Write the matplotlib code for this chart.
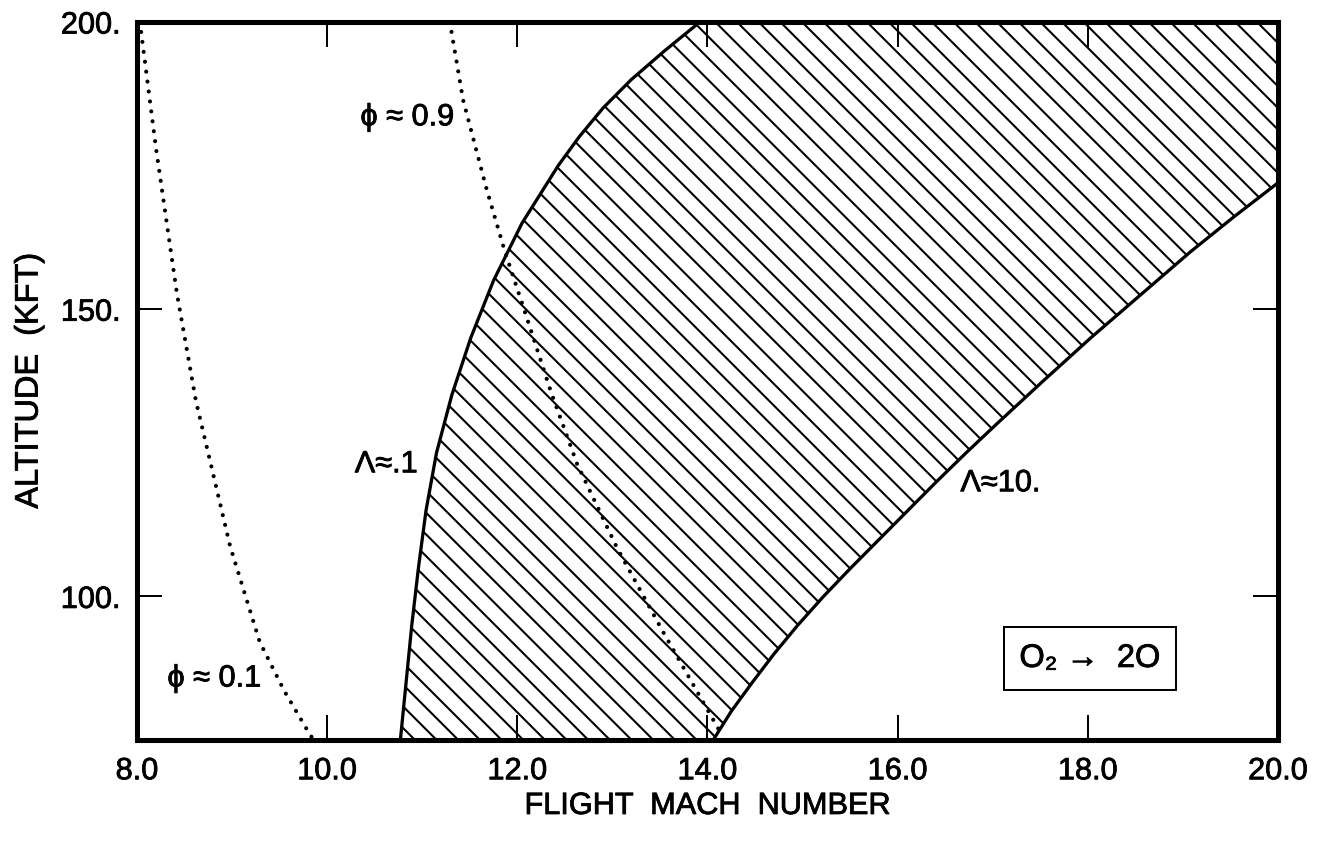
import matplotlib
matplotlib.use("Agg")
import matplotlib.pyplot as plt
import matplotlib.patheffects as pe
import numpy as np

# Lambda ~ 0.1 boundary (left edge of the hatched band)
lam01_alt = [75.0, 85.0, 95.0, 105.0, 115.0, 125.0, 135.0, 145.0, 155.0, 165.0, 175.0, 180.0,
             185.0, 190.0, 195.0, 200.0]
lam01_mach = [10.77, 10.83, 10.89, 10.96, 11.04, 11.15, 11.31, 11.51, 11.75, 12.05, 12.43, 12.65,
              12.90, 13.20, 13.55, 13.92]

# Lambda ~ 10 boundary (right edge of the hatched band)
lam10_alt = [75.0, 80.0, 85.0, 90.0, 95.0, 100.0, 105.0, 110.0, 115.0, 120.0, 125.0, 130.0,
             137.5, 145.0, 152.0, 160.0, 166.0, 172.0]
lam10_mach = [14.06, 14.25, 14.47, 14.70, 14.95, 15.22, 15.51, 15.81, 16.11, 16.41, 16.72, 17.04,
              17.53, 18.03, 18.52, 19.08, 19.53, 20.00]

# dissociation fraction contours
phi09_mach = [11.29, 11.43, 11.68, 11.87, 12.07, 12.36, 12.63, 13.05, 13.53, 14.03, 14.13]
phi09_alt = [200.0, 186.4, 170.7, 160.0, 150.0, 135.3, 123.0, 108.4, 93.9, 79.4, 76.5]

phi01_mach = [8.03, 8.20, 8.42, 8.62, 8.98, 9.29, 9.55, 9.82, 9.86]
phi01_alt = [200.0, 178.0, 152.7, 134.0, 108.7, 92.1, 83.5, 75.9, 75.0]

x_ticks = [8.0, 10.0, 12.0, 14.0, 16.0, 18.0, 20.0]
x_ticklabels = ["8.0", "10.0", "12.0", "14.0", "16.0", "18.0", "20.0"]
y_ticks = [100.0, 150.0, 200.0]
y_ticklabels = ["100.", "150.", "200."]

XLIM = (8.0, 20.0)
YLIM = (75.0, 200.0)

plt.rcParams["font.family"] = ["Liberation Sans", "DejaVu Sans"]
plt.rcParams["hatch.linewidth"] = 1.15

# slightly heavier lettering
INK = [pe.withStroke(linewidth=0.45, foreground="black")]

fig = plt.figure(figsize=(1323 / 130, 842 / 130), dpi=130)
ax = fig.add_axes([137 / 1323, 1 - 740 / 842, (1278 - 137) / 1323, (740 - 22) / 842])

# hatched band between the two Lambda curves, closed along the top edge
band_x = lam01_mach + [lam10_mach[-1]] + lam10_mach[::-1]
band_y = lam01_alt + [YLIM[1]] + lam10_alt[::-1]
ax.fill(band_x, band_y, facecolor="none", edgecolor="black", linewidth=0,
        hatch="\\\\")

ax.plot(lam01_mach, lam01_alt, color="black", lw=1.8, solid_joinstyle="round")
ax.plot(lam10_mach, lam10_alt, color="black", lw=1.8, solid_joinstyle="round")

dot = (0, (0.01, 2.4))
ax.plot(phi09_mach, phi09_alt, color="black", lw=2.3, ls=dot, dash_capstyle="round")
ax.plot(phi01_mach, phi01_alt, color="black", lw=2.3, ls=dot, dash_capstyle="round")

labels = [
    ax.text(10.35, 183.4, "ϕ ≈ 0.9", fontsize=17, va="center", ha="left"),
    ax.text(8.32, 85.7, "ϕ ≈ 0.1", fontsize=17, va="center", ha="left"),
    ax.text(10.29, 123.0, "Λ≈.1", fontsize=17, va="center", ha="left"),
    ax.text(16.66, 119.7, "Λ≈10.", fontsize=17, va="center", ha="left"),
    ax.text(18.02, 89.2, "O₂ →  2O", fontsize=18, va="center", ha="center",
            bbox=dict(boxstyle="square,pad=0.48", facecolor="white",
                      edgecolor="black", linewidth=1.1)),
]

ax.set_xlim(*XLIM)
ax.set_ylim(*YLIM)
ax.set_xticks(x_ticks)
ax.set_xticklabels(x_ticklabels)
ax.set_yticks(y_ticks)
ax.set_yticklabels(y_ticklabels)
ax.tick_params(direction="in", length=14, width=1.1, top=True, right=True,
               labelsize=17, pad=9)

for sp in ax.spines.values():
    sp.set_linewidth(2.8)

ax.set_xlabel("FLIGHT  MACH  NUMBER", fontsize=17)
ax.xaxis.set_label_coords(0.5, -0.071)
ax.set_ylabel("ALTITUDE  (KFT)", fontsize=18)
ax.yaxis.set_label_coords(-0.081, 0.5)

for t in labels + ax.get_xticklabels() + ax.get_yticklabels() + [ax.xaxis.label, ax.yaxis.label]:
    t.set_path_effects(INK)

fig.savefig("out.png", dpi=130)
